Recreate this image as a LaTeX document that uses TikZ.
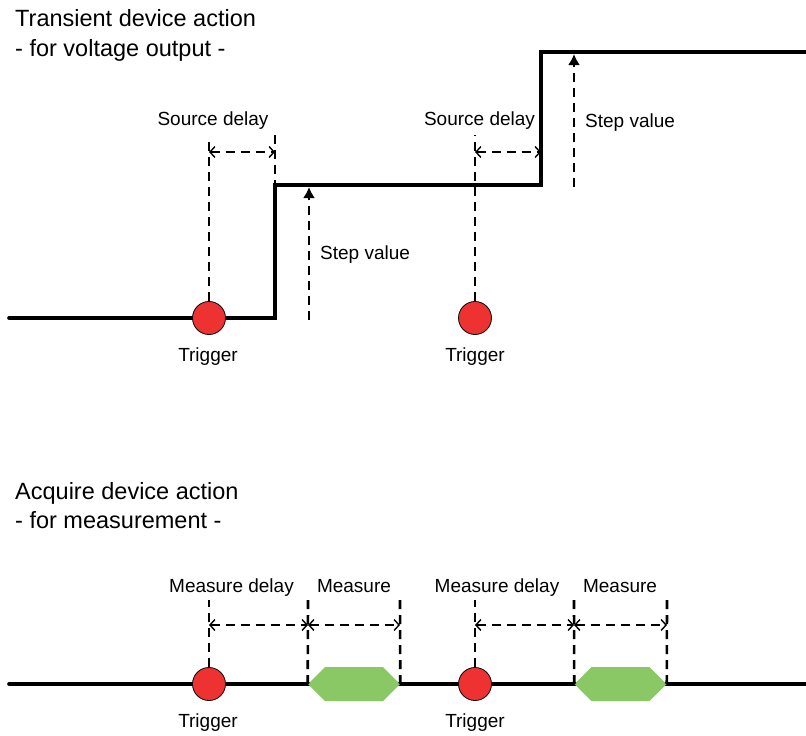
\documentclass[tikz,border=0pt]{standalone}
\usepackage{fontspec}
\setmainfont{Liberation Sans}
\usepackage{xcolor}
\usepackage{tikz}
\usetikzlibrary{arrows.meta,shapes.symbols}
\definecolor{trigred}{HTML}{EE3131}
\definecolor{measgreen}{HTML}{8AC765}
\tikzset{tl/.style={line width=3.6pt}}
\tikzset{dsh/.style={line width=2.6pt,dash pattern=on 9pt off 6pt}}
\tikzset{dly/.style={dsh,{Straight Barb[length=5pt,width=11pt,line width=1.4pt]}-{Straight Barb[length=5pt,width=11pt,line width=1.4pt]}}}
\tikzset{stp/.style={dsh,-{Latex[length=11pt,width=12pt]}}}
\tikzset{trg/.style={circle,draw=black,line width=0.8pt,fill=trigred,minimum size=33pt,inner sep=0pt}}
\tikzset{meas/.style={signal,signal to=east and west,fill=measgreen,minimum width=92pt,minimum height=34pt,inner sep=0pt}}
\tikzset{lbl/.style={font=\fontsize{19}{22}\selectfont,anchor=base,inner sep=0pt}}
\tikzset{ttl/.style={font=\fontsize{23.5}{27}\selectfont,anchor=base west,inner sep=0pt}}

\begin{document}
\begin{tikzpicture}[x=1pt,y=-1pt]
\useasboundingbox (0,0) rectangle (806,736);
% transient (voltage output)
\node[ttl] (tt1) at (15,27) {Transient device action};
\node[ttl] (tt2) at (15,56) {- for voltage output -};
\coordinate (a0) at (9,318); \coordinate (s1) at (275,318); \coordinate (s1t) at (275,185);
\coordinate (s2) at (541,185); \coordinate (s2t) at (541,52); \coordinate (a1) at (806,52);
\draw[tl,line cap=round] (a0) -- (s1) -- (s1t) -- (s2) -- (s2t) -- (a1);
\node[trg] (t1) at (209,318) {}; \node[trg] (t2) at (475,318) {};
\node[lbl] (tl1) at (208,361) {Trigger}; \node[lbl] (tl2) at (475,361) {Trigger};
\coordinate (d1) at (209,137); \coordinate (d1r) at (275,135);
\coordinate (d2) at (475,135);
\draw[dsh] (t1) -- (d1); \draw[dsh] (d1r) -- (s1t); \draw[dsh] (t2) -- (d2);
\coordinate (h1l) at (209,152); \coordinate (h1r) at (275,152);
\coordinate (h2l) at (475,152); \coordinate (h2r) at (541,152);
\draw[dly] (h1l) -- (h1r); \draw[dly] (h2l) -- (h2r);
\node[lbl] (sd1) at (213,125) {Source delay}; \node[lbl] (sd2) at (479.5,125) {Source delay};
\coordinate (v1b) at (309,320); \coordinate (v1t) at (309,187);
\coordinate (v2b) at (574,187); \coordinate (v2t) at (574,54);
\draw[stp] (v1b) -- (v1t); \draw[stp] (v2b) -- (v2t);
\node[lbl,anchor=base west] (sv1) at (320,259) {Step value};
\node[lbl,anchor=base west] (sv2) at (585,127) {Step value};
% acquire (measurement)
\node[ttl] (at1) at (15,499) {Acquire device action};
\node[ttl] (at2) at (15,528) {- for measurement -};
\coordinate (b0) at (9,684); \coordinate (b1) at (806,684);
\draw[tl,line cap=round] (b0) -- (b1);
\node[meas] (m1) at (354,684) {}; \node[meas] (m2) at (620.5,684) {};
\node[trg] (t3) at (209,684) {}; \node[trg] (t4) at (475,684) {};
\node[lbl] (tl3) at (208,727) {Trigger}; \node[lbl] (tl4) at (475,727) {Trigger};
\coordinate (e1) at (209,600); \coordinate (e2) at (308,600); \coordinate (e3) at (400,600);
\coordinate (e4) at (475,600); \coordinate (e5) at (574,600); \coordinate (e6) at (667,600);
\draw[dsh] (t3) -- (e1); \draw[dsh] (m1.west) -- (e2); \draw[dsh] (m1.east) -- (e3);
\draw[dsh] (t4) -- (e4); \draw[dsh] (m2.west) -- (e5); \draw[dsh] (m2.east) -- (e6);
\coordinate (g1) at (209,625); \coordinate (g2) at (308,625); \coordinate (g3) at (400,625);
\coordinate (g4) at (475,625); \coordinate (g5) at (574,625); \coordinate (g6) at (667,625);
\draw[dly] (g1) -- (g2); \draw[dly] (g2) -- (g3);
\draw[dly] (g4) -- (g5); \draw[dly] (g5) -- (g6);
\node[lbl] (md1) at (231.5,592) {Measure delay}; \node[lbl] (ms1) at (354,592) {Measure};
\node[lbl] (md2) at (497,592) {Measure delay}; \node[lbl] (ms2) at (620,592) {Measure};
\end{tikzpicture}
\end{document}
